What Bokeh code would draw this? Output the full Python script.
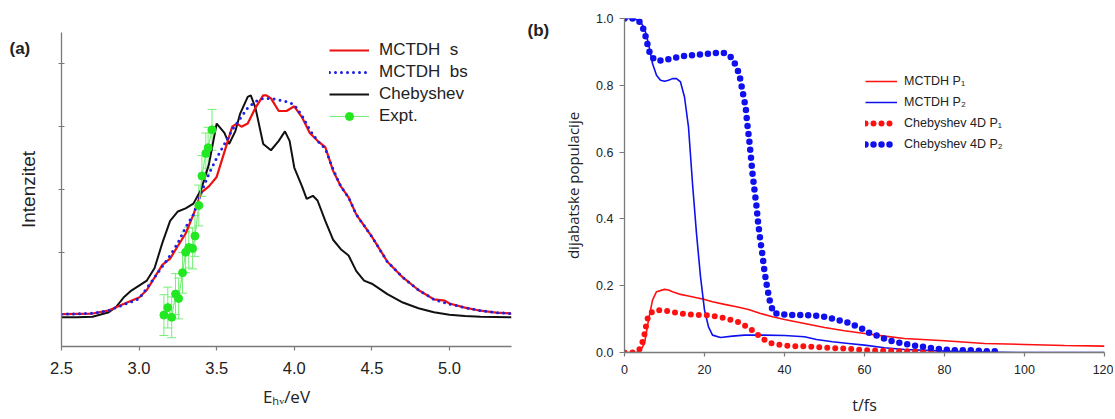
from bokeh.plotting import figure
from bokeh.models import (ColumnDataSource, Whisker, TeeHead, Legend, LegendItem,
                          Label, FixedTicker, PrintfTickFormatter)
from bokeh.embed import file_html
from bokeh.resources import INLINE

# ---------------- Panel (a): spectra ----------------
e_mctdh_s = [2.5, 2.6, 2.7, 2.8, 2.9, 3.0, 3.05, 3.1, 3.15, 3.2, 3.25, 3.3, 3.35, 3.4,
             3.45, 3.5, 3.55, 3.6, 3.63, 3.66, 3.7, 3.75, 3.8, 3.82, 3.85, 3.9, 3.95,
             4.0, 4.05, 4.1, 4.15, 4.2, 4.25, 4.3, 4.35, 4.4, 4.5, 4.6, 4.7, 4.8, 4.9,
             4.97, 5.0, 5.1, 5.2, 5.3, 5.4]
i_mctdh_s = [0.003, 0.004, 0.005, 0.014, 0.035, 0.056, 0.08, 0.12, 0.16, 0.18, 0.22,
             0.26, 0.32, 0.39, 0.41, 0.44, 0.52, 0.60, 0.61, 0.60, 0.61, 0.66, 0.70,
             0.70, 0.69, 0.65, 0.65, 0.665, 0.63, 0.58, 0.555, 0.535, 0.46, 0.41,
             0.375, 0.32, 0.25, 0.17, 0.12, 0.08, 0.05, 0.046, 0.037, 0.024, 0.014,
             0.008, 0.005]

e_mctdh_bs = [2.5, 2.6, 2.7, 2.8, 2.9, 3.0, 3.1, 3.2, 3.25, 3.3, 3.35, 3.4, 3.45, 3.5,
              3.55, 3.6, 3.65, 3.7, 3.75, 3.8, 3.85, 3.9, 3.95, 4.0, 4.05, 4.1, 4.15,
              4.2, 4.25, 4.3, 4.35, 4.4, 4.5, 4.6, 4.7, 4.8, 4.9, 5.0, 5.1, 5.2, 5.3, 5.4]
i_mctdh_bs = [0.003, 0.004, 0.006, 0.014, 0.033, 0.052, 0.12, 0.19, 0.23, 0.28, 0.32,
              0.39, 0.45, 0.50, 0.545, 0.59, 0.625, 0.66, 0.68, 0.69, 0.69, 0.685,
              0.68, 0.67, 0.635, 0.59, 0.555, 0.53, 0.465, 0.41, 0.375, 0.32, 0.25,
              0.17, 0.12, 0.08, 0.05, 0.035, 0.024, 0.014, 0.008, 0.005]

e_cheb = [2.5, 2.6, 2.7, 2.8, 2.85, 2.9, 2.95, 3.0, 3.05, 3.1, 3.15, 3.2, 3.25, 3.3,
          3.35, 3.4, 3.45, 3.5, 3.55, 3.58, 3.62, 3.65, 3.7, 3.72, 3.75, 3.8, 3.85,
          3.9, 3.94, 3.97, 4.0, 4.05, 4.08, 4.12, 4.15, 4.2, 4.25, 4.3, 4.35, 4.4,
          4.45, 4.5, 4.6, 4.7, 4.8, 4.9, 5.0, 5.1, 5.2, 5.4]
i_cheb = [-0.007, -0.007, -0.005, 0.008, 0.025, 0.056, 0.078, 0.094, 0.11, 0.15, 0.23,
          0.30, 0.33, 0.34, 0.355, 0.40, 0.48, 0.61, 0.58, 0.545, 0.585, 0.64, 0.695,
          0.70, 0.66, 0.545, 0.525, 0.555, 0.585, 0.555, 0.47, 0.41, 0.37, 0.38,
          0.365, 0.30, 0.24, 0.21, 0.19, 0.14, 0.11, 0.10, 0.067, 0.04, 0.022, 0.009,
          0.001, -0.003, -0.005, -0.007]

e_expt = [3.16, 3.185, 3.21, 3.235, 3.255, 3.28, 3.30, 3.32, 3.345, 3.36, 3.385,
          3.405, 3.43, 3.445, 3.47]
i_expt = [0.0, 0.024, -0.007, 0.067, 0.053, 0.135, 0.200, 0.215, 0.212, 0.252, 0.349,
          0.443, 0.515, 0.533, 0.590]
err_expt = [0.065] * 15

a_yticks = [0.2, 0.4, 0.6, 0.8]
a_xticks = [2.5, 3.0, 3.5, 4.0, 4.5, 5.0]

# ---------------- Panel (b): populations ----------------
t_m_p1 = [0, 3, 4, 5, 6, 7, 8, 10, 11, 12, 14, 16, 18, 20, 22, 25, 28, 31, 34, 37, 40,
          45, 50, 55, 60, 65, 70, 80, 90, 100, 110, 120]
p_m_p1 = [0, 0, 0.007, 0.027, 0.097, 0.157, 0.182, 0.189, 0.187, 0.182, 0.174, 0.169,
          0.164, 0.159, 0.152, 0.144, 0.137, 0.129, 0.117, 0.107, 0.099, 0.087, 0.075,
          0.065, 0.057, 0.049, 0.042, 0.035, 0.027, 0.024, 0.021, 0.019]

t_m_p2 = [0, 2.5, 4, 5, 6, 7, 8, 9, 10, 11, 12, 13, 14, 15, 16, 17, 18, 19, 20, 21, 22,
          24, 27, 30, 35, 40, 45, 48, 52, 56, 60, 65, 70, 80, 90, 100, 120]
p_m_p2 = [1.0, 1.0, 0.99, 0.97, 0.925, 0.865, 0.83, 0.815, 0.812, 0.815, 0.82, 0.82,
          0.81, 0.765, 0.675, 0.506, 0.356, 0.227, 0.127, 0.077, 0.052, 0.045, 0.049,
          0.052, 0.052, 0.051, 0.047, 0.039, 0.032, 0.027, 0.022, 0.014, 0.009, 0.004,
          0.001, 0.0, 0.0]

t_c_p1 = [0, 2.5, 4, 4.5, 5.05, 5.5, 6.0, 7.2, 9.5, 11.7, 13.8, 15.9, 17.9, 20.1, 22.2,
          24.3, 26.3, 28.3, 29.9, 31.4, 32.9, 34.5, 36.2, 38.2, 40.2, 42.5, 44.7, 46.9,
          49.1, 51.3, 53.5, 55.7, 58.0, 60.2, 62.4, 64.4, 66.4, 68.6, 70.8, 73.0, 75.2,
          77.5, 79.7, 81.9]
p_c_p1 = [0, 0, 0.012, 0.032, 0.057, 0.087, 0.112, 0.125, 0.127, 0.122, 0.117, 0.115,
          0.112, 0.112, 0.109, 0.105, 0.099, 0.092, 0.082, 0.072, 0.057, 0.042, 0.029,
          0.024, 0.021, 0.019, 0.019, 0.017, 0.015, 0.014, 0.012, 0.012, 0.009, 0.007,
          0.006, 0.005, 0.005, 0.004, 0.004, 0.003, 0.002, 0.002, 0.002, 0.002]

t_c_p2 = [0, 2.5, 4.1, 5.0, 5.5, 6.0, 6.6, 8.3, 10.5, 12.5, 14.5, 16.8, 18.8, 21.0,
          23.0, 25.0, 26.9, 27.9, 28.7, 29.5, 30.3, 30.7, 31.2, 31.6, 32.0, 32.5, 33.0,
          33.4, 33.9, 34.5, 35.0, 35.7, 36.5, 37.4, 38.7, 40.7, 44.9, 49.1, 51.0, 53.3,
          55.3, 57.3, 59.3, 61.2, 63.5, 65.5, 67.4, 69.5, 71.7, 73.6, 75.7, 77.7, 79.9,
          82.2, 86.1, 90.1, 94.3]
p_c_p2 = [1.0, 1.0, 0.987, 0.96, 0.935, 0.91, 0.885, 0.873, 0.877, 0.882, 0.887, 0.89,
          0.892, 0.895, 0.897, 0.897, 0.882, 0.857, 0.833, 0.783, 0.733, 0.684, 0.634,
          0.586, 0.536, 0.486, 0.438, 0.389, 0.341, 0.291, 0.242, 0.192, 0.144, 0.117,
          0.117, 0.112, 0.112, 0.109, 0.105, 0.097, 0.092, 0.082, 0.072, 0.059, 0.049,
          0.039, 0.032, 0.027, 0.022, 0.019, 0.015, 0.012, 0.009, 0.007, 0.007, 0.004,
          0.003]

b_xticks = [0, 20, 40, 60, 80, 100, 120]
b_yticks = [0.0, 0.2, 0.4, 0.6, 0.8, 1.0]

TXT = "#222222"
AX = "#7a7a7a"
FONT = "Liberation Sans"


def style_axes(p, tick_size):
    for ax in (p.xaxis[0], p.yaxis[0]):
        ax.axis_line_color = AX
        ax.axis_line_width = 1.3
        ax.major_tick_line_color = AX
        ax.major_tick_line_width = 1.2
        ax.minor_tick_line_color = None
        ax.major_label_text_font = FONT
        ax.major_label_text_font_size = tick_size
        ax.major_label_text_color = TXT
        ax.axis_label_text_color = TXT
        ax.axis_label_text_font_style = "normal"
    p.xgrid.grid_line_color = None
    p.ygrid.grid_line_color = None
    p.outline_line_color = None


# ================= figure (a) =================
p1 = figure(width=520, height=417, min_border_left=61, min_border_right=9,
            min_border_top=32, min_border_bottom=71, x_range=(2.5, 5.4),
            y_range=(-0.1, 0.9), output_backend="svg", toolbar_location=None)
style_axes(p1, "16.5px")
p1.xaxis.ticker = FixedTicker(ticks=a_xticks)
p1.xaxis.formatter = PrintfTickFormatter(format="%.1f")
p1.yaxis.ticker = FixedTicker(ticks=a_yticks)
p1.yaxis.major_label_overrides = {t: "" for t in a_yticks}
p1.yaxis.major_label_standoff = 0
p1.yaxis.major_tick_in = 3
p1.yaxis.major_tick_out = 3
p1.xaxis.major_tick_in = 0
p1.xaxis.major_tick_out = 4
p1.xaxis.major_label_standoff = 11
p1.yaxis.axis_label = "Intenzitet"
p1.yaxis.axis_label_text_font = FONT
p1.yaxis.axis_label_text_font_size = "19px"
p1.yaxis.axis_label_standoff = 20
p1.xaxis.axis_label = "E\u2095\u1d65/eV"
p1.xaxis.axis_label_text_font = "Open Sans"
p1.xaxis.axis_label_text_font_size = "17px"
p1.xaxis.axis_label_standoff = 8

r_cheb = p1.line(e_cheb, i_cheb, line_color="#111111", line_width=2)
r_s = p1.line(e_mctdh_s, i_mctdh_s, line_color="#ee1111", line_width=2.2)
r_bs = p1.line(e_mctdh_bs, i_mctdh_bs, line_color="#1f1fe6", line_width=3,
               line_dash="0 6", line_cap="round")

lo = [y - e for y, e in zip(i_expt, err_expt)]
hi = [y + e for y, e in zip(i_expt, err_expt)]
src_e = ColumnDataSource(dict(x=e_expt, y=i_expt, lo=lo, hi=hi))
GREEN_L = "#77ee77"
wh = Whisker(source=src_e, base="x", upper="hi", lower="lo", dimension="height",
             line_color=GREEN_L, line_width=1,
             upper_head=TeeHead(size=9, line_color=GREEN_L, line_width=1),
             lower_head=TeeHead(size=9, line_color=GREEN_L, line_width=1))
p1.add_layout(wh)
r_el = p1.line("x", "y", source=src_e, line_color=GREEN_L, line_width=1.2)
r_ep = p1.scatter("x", "y", source=src_e, size=8, fill_color="#22e822",
                  line_color="#22e822")

leg1 = Legend(items=[LegendItem(label="MCTDH  s", renderers=[r_s]),
                     LegendItem(label="MCTDH  bs", renderers=[r_bs]),
                     LegendItem(label="Chebyshev", renderers=[r_cheb]),
                     LegendItem(label="Expt.", renderers=[r_el, r_ep])],
              location=(268, 220), glyph_width=40, glyph_height=20, label_height=20,
              label_standoff=10, spacing=2, padding=0, margin=0,
              border_line_color=None, background_fill_alpha=0,
              label_text_font=FONT, label_text_font_size="17px",
              label_text_color=TXT)
p1.add_layout(leg1)

p1.add_layout(Label(x=9, y=48, x_units="canvas", y_units="canvas", text="(a)",
                    text_font=FONT, text_font_size="17px", text_font_style="bold",
                    text_color=TXT, text_baseline="middle", text_align="left"),
              "above")

# ================= figure (b) =================
p2 = figure(width=593, height=419, min_border_left=104, min_border_right=9,
            min_border_top=18, min_border_bottom=67, x_range=(0, 120),
            y_range=(0, 1.0), output_backend="svg", toolbar_location=None)
style_axes(p2, "12.5px")
p2.xaxis.ticker = FixedTicker(ticks=b_xticks)
p2.xaxis.formatter = PrintfTickFormatter(format="%d")
p2.yaxis.ticker = FixedTicker(ticks=b_yticks)
p2.yaxis.formatter = PrintfTickFormatter(format="%.1f")
p2.xaxis.major_tick_in = 0
p2.xaxis.major_tick_out = 4
p2.yaxis.major_tick_in = 0
p2.yaxis.major_tick_out = 5
p2.xaxis.major_label_standoff = 8
p2.yaxis.major_label_standoff = 6
p2.yaxis.axis_label = "dijabatske populacije"
p2.yaxis.axis_label_text_font = "Open Sans"
p2.yaxis.axis_label_text_font_size = "15px"
p2.yaxis.axis_label_standoff = 10
p2.xaxis.axis_label = "t/fs"
p2.xaxis.axis_label_text_font = "Open Sans"
p2.xaxis.axis_label_text_font_size = "16px"
p2.xaxis.axis_label_standoff = 17

r_m1 = p2.line(t_m_p1, p_m_p1, line_color="#ff1010", line_width=1.6)
r_m2 = p2.line(t_m_p2, p_m_p2, line_color="#1010ee", line_width=1.6)
r_c1 = p2.line(t_c_p1, p_c_p1, line_color="#ff1010", line_width=6,
               line_dash="0 8", line_cap="round")
r_c2 = p2.line(t_c_p2, p_c_p2, line_color="#1010ee", line_width=6.5,
               line_dash="0 8", line_cap="round")

leg2 = Legend(items=[LegendItem(label="MCTDH P\u2081", renderers=[r_m1]),
                     LegendItem(label="MCTDH P\u2082", renderers=[r_m2]),
                     LegendItem(label="Chebyshev 4D P\u2081", renderers=[r_c1]),
                     LegendItem(label="Chebyshev 4D P\u2082", renderers=[r_c2])],
              location=(241, 199), glyph_width=32, glyph_height=18, label_height=18,
              label_standoff=7, spacing=3, padding=0, margin=0,
              border_line_color=None, background_fill_alpha=0,
              label_text_font=FONT, label_text_font_size="12.5px",
              label_text_color=TXT)
p2.add_layout(leg2)

p2.add_layout(Label(x=7, y=30, x_units="canvas", y_units="canvas", text="(b)",
                    text_font=FONT, text_font_size="17px", text_font_style="bold",
                    text_color=TXT, text_baseline="middle", text_align="left"),
              "left")

# two independent roots placed side by side (avoids frame alignment of a row)
html = file_html([p1, p2], INLINE)
html = html.replace("</head>",
                    "<style>body{display:flex !important;flex-direction:row;"
                    "align-items:flex-start;}</style></head>", 1)
open("out.html", "w").write(html)
